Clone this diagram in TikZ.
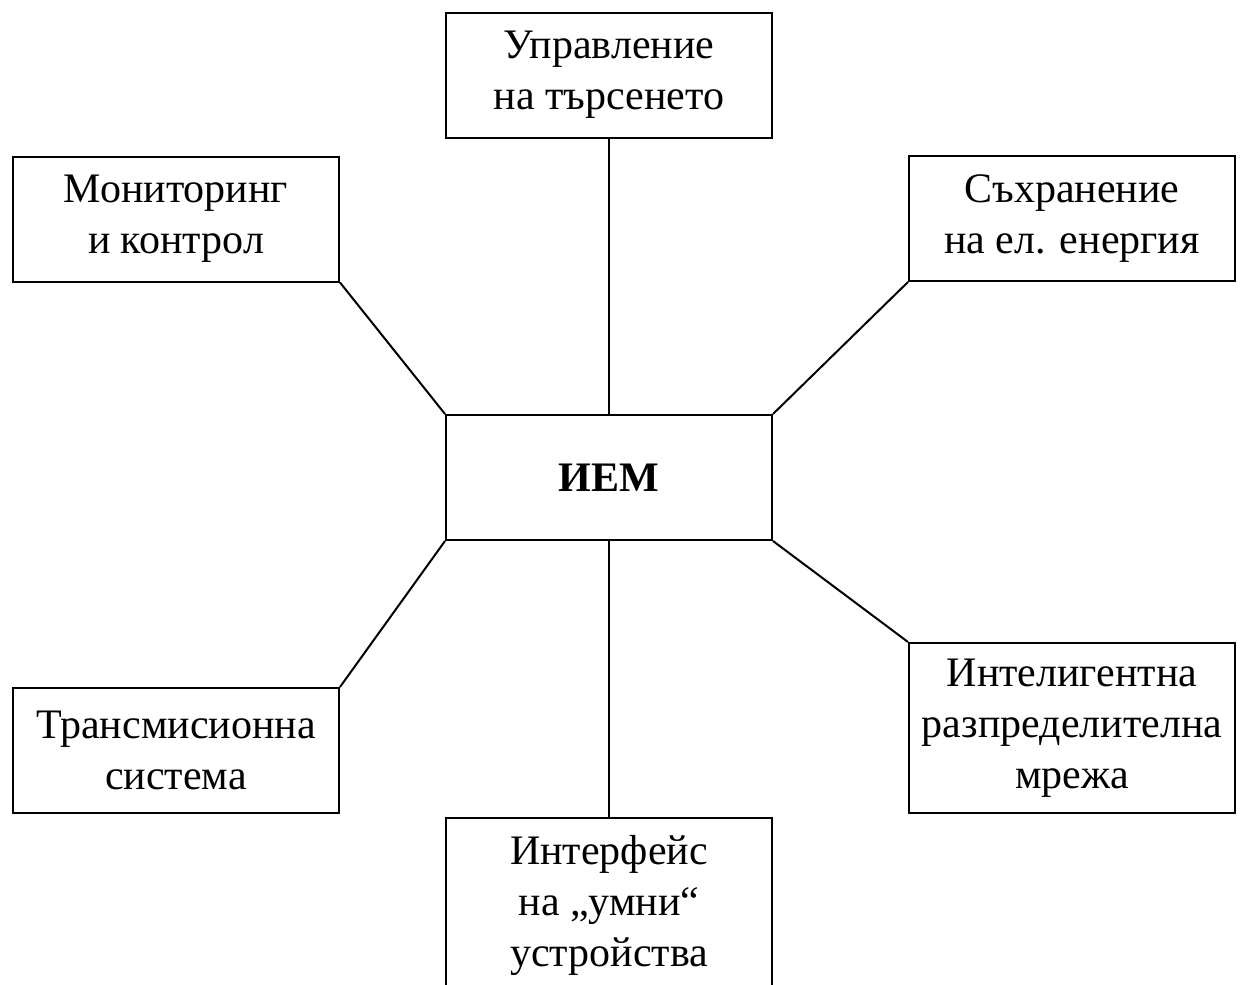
\documentclass[tikz,border=0pt]{standalone}
\usepackage{fontspec}
\setmainfont{Liberation Serif}
\begin{document}
\begin{tikzpicture}[x=0.5pt,y=-0.5pt,
  box/.style={draw,line width=1pt,minimum width=163pt,minimum height=62.5pt,inner sep=0pt,align=center,
    font=\fontsize{21}{25.5}\selectfont},
  link/.style={line width=1pt}]
\useasboundingbox (0,0) rectangle (1248,985);
\node[box] (top) at (609,75) {Управление\\на търсенето};
\node[box] (mon) at (176,219) {Мониторинг\\и контрол};
\node[box] (stor) at (1072,218.5) {Съхранение\\на ел. енергия};
\node[box] (iem) at (609,477.5) {\textbf{ИЕМ}};
\node[box] (trans) at (176,750.5) {Трансмисионна\\система};
\node[box,minimum height=85pt] (intel) at (1072,728) {Интелигентна\\разпределителна\\мрежа};
\node[box,minimum height=87.5pt] (dev) at (609,905.5) {Интерфейс\\на „умни“\\устройства};
\draw[link] (top.south) -- (iem.north);
\draw[link] (mon.south east) -- (iem.north west);
\draw[link] (stor.south west) -- (iem.north east);
\draw[link] (iem.south west) -- (trans.north east);
\draw[link] (iem.south east) -- (intel.north west);
\draw[link] (iem.south) -- (dev.north);
\end{tikzpicture}
\end{document}
